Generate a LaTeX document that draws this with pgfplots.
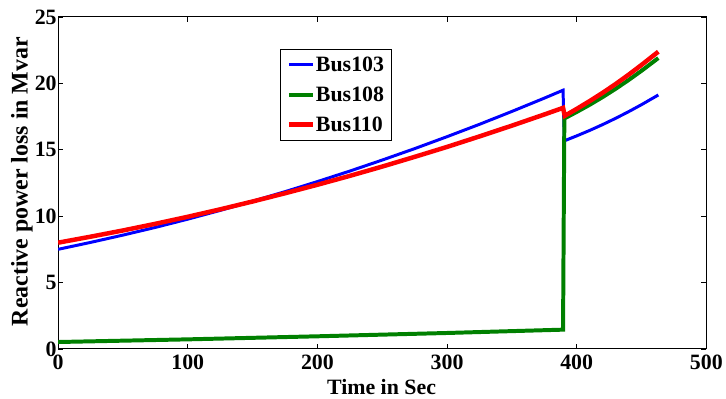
\documentclass[border=0pt]{standalone}
\usepackage{pgfplots}
\pgfplotsset{compat=1.18}
\usepackage{fontspec}
\setmainfont{Liberation Serif}
\begin{document}
\begin{tikzpicture}
\begin{axis}[
  scale only axis,
  width=652pt, height=334pt,
  xmin=0, xmax=500, ymin=0, ymax=25,
  xtick={0,100,...,500}, ytick={0,5,...,25},
  tick align=inside,
  major tick length=5pt,
  tick style={black, line width=0.6pt},
  axis line style={black, line width=1pt},
  /pgf/number format/assume math mode=true,
  ticklabel style={font=\fontsize{22}{22}\selectfont\bfseries},
  xticklabel style={yshift=-3pt},
  yticklabel style={xshift=2pt},
  xlabel={Time in Sec},
  ylabel={Reactive power loss in Mvar},
  xlabel style={font=\fontsize{22}{22}\selectfont\bfseries, at={(axis description cs:0.499,-0.1377)}, anchor=base},
  ylabel style={font=\fontsize{24}{24}\selectfont\bfseries, at={(axis description cs:-0.056,0.504)}, anchor=center},
  legend style={at={(0.342,0.904)}, anchor=north west, draw=black, line width=0.8pt,
    font=\fontsize{22}{24}\selectfont\bfseries, inner sep=6.5pt, row sep=12pt,
    nodes={inner sep=1pt}},
  legend cell align=left,
  legend image code/.code={\draw[#1] (0pt,0pt) -- (24pt,0pt);},
]
\addplot[blue, line width=3pt] coordinates {
(0,7.5) (25,8.02) (50,8.57) (75,9.15) (100,9.77) (125,10.43) (150,11.12) (175,11.84) (200,12.6)
(225,13.39) (250,14.22) (275,15.08) (300,15.98) (325,16.91) (350,17.88) (375,18.88) (389.5,19.48)
(390.5,15.67) (400,16.04) (410,16.45) (420,16.89) (430,17.36) (440,17.86) (450,18.39) (463,19.12)};
\addlegendentry{Bus103}
\addplot[green!50!black, line width=4pt] coordinates {
(0,0.52) (100,0.72) (200,0.95) (300,1.2) (389.5,1.45)
(390.5,17.35) (400,17.84) (410,18.38) (420,18.96) (430,19.58) (440,20.24) (450,20.94) (463,21.9)};
\addlegendentry{Bus108}
\addplot[red, line width=4.5pt] coordinates {
(0,8.0) (25,8.45) (50,8.92) (75,9.42) (100,9.95) (125,10.51) (150,11.1) (175,11.72) (200,12.36)
(225,13.03) (250,13.73) (275,14.46) (300,15.21) (325,16.0) (350,16.81) (375,17.65) (389.5,18.15)
(390.8,17.55) (400,18.07) (410,18.66) (420,19.28) (430,19.94) (440,20.64) (450,21.38) (463,22.38)};
\addlegendentry{Bus110}
\end{axis}
\path (-58.5pt,-48pt) rectangle (667.5pt,351pt);
\end{tikzpicture}
\end{document}
